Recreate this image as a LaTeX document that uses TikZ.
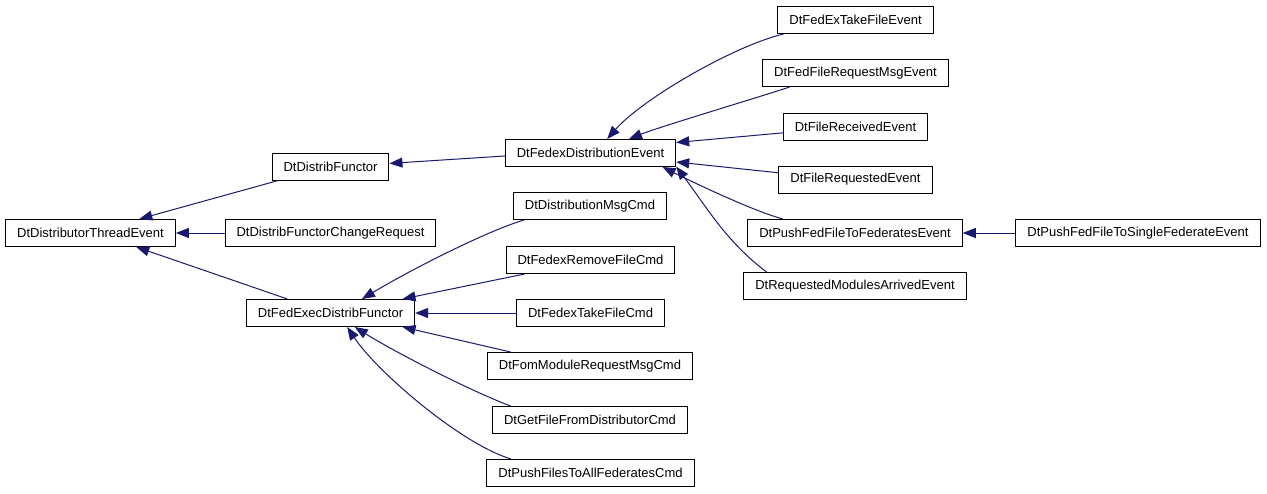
\documentclass[tikz,border=0pt]{standalone}
\usepackage{fontspec}
\setmainfont{Liberation Sans}
\usepackage{xcolor}
\usetikzlibrary{arrows.meta}
\definecolor{edgeblue}{HTML}{191970}
\tikzset{
  cls/.style={rectangle, draw=black, fill=white, line width=1pt, font=\fontsize{13}{15}\selectfont, inner xsep=11.5pt, inner ysep=0pt, minimum height=27pt},
  inh/.style={-{Triangle[length=13pt, width=10pt]}, line width=1pt, draw=edgeblue},
}
\begin{document}
\begin{tikzpicture}[x=1pt, y=-1pt]
  \useasboundingbox (0,0) rectangle (1267,493);
  \node[cls] (thr) at (90.5,233) {DtDistributorThreadEvent};
  \node[cls] (fun) at (330.5,166.5) {DtDistribFunctor};
  \node[cls] (fun_cr) at (330.5,233) {DtDistribFunctorChangeRequest};
  \node[cls] (exe) at (330.5,313) {DtFedExecDistribFunctor};
  \node[cls] (fde) at (590.5,153) {DtFedexDistributionEvent};
  \node[cls] (msg_c) at (590,206) {DtDistributionMsgCmd};
  \node[cls] (rem_c) at (590.5,260) {DtFedexRemoveFileCmd};
  \node[cls] (take_c) at (590.5,313) {DtFedexTakeFileCmd};
  \node[cls] (fom_c) at (590,366) {DtFomModuleRequestMsgCmd};
  \node[cls] (get_c) at (590,420) {DtGetFileFromDistributorCmd};
  \node[cls] (push_c) at (590.5,473) {DtPushFilesToAllFederatesCmd};
  \node[cls] (take_e) at (855.5,20) {DtFedExTakeFileEvent};
  \node[cls] (req_e) at (855.5,73) {DtFedFileRequestMsgEvent};
  \node[cls] (rcv_e) at (855.5,126.5) {DtFileReceivedEvent};
  \node[cls] (rqd_e) at (855.5,179.5) {DtFileRequestedEvent};
  \node[cls] (push_e) at (855,233) {DtPushFedFileToFederatesEvent};
  \node[cls] (mod_e) at (855,286) {DtRequestedModulesArrivedEvent};
  \node[cls] (single_e) at (1138,233) {DtPushFedFileToSingleFederateEvent};
  \draw[inh] (fun.-165) -- (thr.16);
  \draw[inh] (fun_cr.west) -- (thr.east);
  \draw[inh] (exe.162) -- (thr.-17);
  \draw[inh] (fde.182) -- (fun.3);
  \draw[inh] (msg_c.-168) .. controls +(-35,10) and +(50,-30) .. (exe.24);
  \draw[inh] (rem_c.-168) -- (exe.11);
  \draw[inh] (take_c.west) -- (exe.east);
  \draw[inh] (fom_c.170) -- (exe.-11);
  \draw[inh] (get_c.170) .. controls +(-40,-15) and +(40,25) .. (exe.-30);
  \draw[inh] (push_c.170) .. controls +(-50,-15) and +(30,45) .. (exe.-40);
  \draw[inh] (take_e.-169) .. controls +(-50,12) and +(35,-40) .. (fde.40);
  \draw[inh] (req_e.-168) .. controls +(-30,10) and +(30,-12) .. (fde.20);
  \draw[inh] (rcv_e.-175) -- (fde.7);
  \draw[inh] (rqd_e.175) -- (fde.-6);
  \draw[inh] (push_e.169) .. controls +(-30,-8) and +(30,15) .. (fde.-11);
  \draw[inh] (mod_e.171) .. controls +(-40,-30) and +(30,40) .. (fde.-9.5);
  \draw[inh] (single_e.west) -- (push_e.east);
\end{tikzpicture}
\end{document}
